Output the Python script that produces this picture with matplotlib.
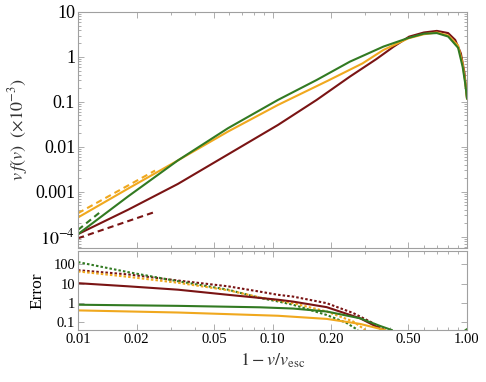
import numpy as np
import matplotlib
matplotlib.use("Agg")
import matplotlib.pyplot as plt
from matplotlib.ticker import FixedLocator, FixedFormatter, NullFormatter

plt.rcParams['font.family'] = 'serif'
plt.rcParams['font.serif'] = ['Liberation Serif', 'DejaVu Serif']
plt.rcParams['mathtext.fontset'] = 'stix'

# colours
red = "#7a1414"
orange = "#f0a81e"
green = "#327a22"
frame = "#a0a0a0"

# top panel: v f(v) curves, x = 1 - v/v_esc
x_green = [0.01, 0.01807, 0.0326, 0.059, 0.1067, 0.1687, 0.25, 0.3715, 0.5, 0.6, 0.7, 0.8, 0.9, 0.95, 0.98, 1.0]
y_green = [1.15e-4, 7.9e-4, 0.0050, 0.026, 0.111, 0.308, 0.787, 1.70, 2.65, 3.3, 3.4, 2.85, 1.6, 0.6, 0.25, 0.12]

x_orange = [0.01, 0.01807, 0.0326, 0.059, 0.1067, 0.193, 0.2904, 0.3715, 0.5, 0.6, 0.7, 0.8, 0.9, 0.95, 0.98, 1.0]
y_orange = [2.7e-4, 0.00118, 0.0050, 0.0219, 0.0858, 0.298, 0.72, 1.43, 2.6, 3.2, 3.5, 3.0, 1.8, 0.7, 0.28, 0.12]

x_red = [0.01, 0.01807, 0.0326, 0.059, 0.1067, 0.1687, 0.25, 0.3423, 0.42, 0.504, 0.6, 0.7, 0.8, 0.87, 0.93, 0.97, 1.0]
y_red = [1.15e-4, 4.0e-4, 0.0015, 0.0068, 0.0308, 0.111, 0.366, 0.9, 1.7, 2.83, 3.5, 3.8, 3.4, 2.39, 1.2, 0.45, 0.12]

# small-x approximations (dashed)
xd_orange = [0.01, 0.0249]
yd_orange = [3.36e-4, 2.98e-3]
xd_green = [0.01, 0.013]
yd_green = [1.43e-4, 3.55e-4]
xd_red = [0.01, 0.0247]
yd_red = [9.3e-5, 3.55e-4]

# bottom panel: errors
xe_red_dot = [0.01, 0.0181, 0.0327, 0.0591, 0.0861, 0.1068, 0.1275, 0.19, 0.26, 0.317, 0.378]
ye_red_dot = [50, 30, 14.4, 7.2, 3.8, 2.6, 2.1, 0.95, 0.29, 0.105, 0.038]
xe_red = [0.01, 0.0181, 0.0327, 0.0591, 0.1068, 0.1275, 0.19, 0.282, 0.37]
ye_red = [10.5, 7.2, 4.8, 2.6, 1.44, 1.15, 0.59, 0.155, 0.038]
xe_green_dot = [0.01, 0.0181, 0.0327, 0.0591, 0.0861, 0.1068, 0.1275, 0.19, 0.2396, 0.275]
ye_green_dot = [132, 39.5, 13.2, 4.8, 1.78, 1.17, 0.79, 0.23, 0.09, 0.038]
xe_green = [0.01, 0.0327, 0.0861, 0.1275, 0.19, 0.282, 0.357, 0.41]
ye_green = [0.79, 0.69, 0.58, 0.5, 0.35, 0.155, 0.062, 0.038]
xe_orange_dot = [0.01, 0.0181, 0.0327, 0.0591, 0.0861, 0.1068, 0.1275, 0.19, 0.26, 0.30]
ye_orange_dot = [43, 22.5, 11, 4.5, 1.9, 1.3, 0.95, 0.35, 0.105, 0.038]
xe_orange = [0.01, 0.0327, 0.1068, 0.19, 0.282, 0.378]
ye_orange = [0.4, 0.31, 0.21, 0.144, 0.079, 0.038]
xe_green_end = [0.985, 1.0]
ye_green_end = [0.038, 0.042]

x_ticks = [0.01, 0.02, 0.05, 0.1, 0.2, 0.5, 1.0]
x_ticklabels = ["0.01", "0.02", "0.05", "0.10", "0.20", "0.50", "1.00"]
y1_ticks = [1e-4, 1e-3, 1e-2, 1e-1, 1, 10]
y1_ticklabels = ["$10^{-4}$", "0.001", "0.01", "0.1", "1", "10"]
y2_ticks = [0.1, 1, 10, 100]
y2_ticklabels = ["0.1", "1", "10", "100"]

W, H = 486, 382
fig = plt.figure(figsize=(W / 100, H / 100), dpi=100)
ax1 = fig.add_axes([78 / W, 1 - 247.5 / H, 389 / W, 235.5 / H])
ax2 = fig.add_axes([78 / W, 1 - 330 / H, 389 / W, 79 / H])

lw = 1.5
ax1.plot(x_red, y_red, color=red, lw=lw)
ax1.plot(x_orange, y_orange, color=orange, lw=lw)
ax1.plot(x_green, y_green, color=green, lw=lw)
ax1.plot(xd_orange, yd_orange, color=orange, lw=lw, dashes=(3, 2))
ax1.plot(xd_green, yd_green, color=green, lw=lw, dashes=(3, 2))
ax1.plot(xd_red, yd_red, color=red, lw=lw, dashes=(3, 2))

ax2.plot(xe_red_dot, ye_red_dot, color=red, lw=lw, dashes=(1.2, 1))
ax2.plot(xe_green_dot, ye_green_dot, color=green, lw=lw, dashes=(1.2, 1))
ax2.plot(xe_orange_dot, ye_orange_dot, color=orange, lw=lw, dashes=(1.2, 1))
ax2.plot(xe_red, ye_red, color=red, lw=lw)
ax2.plot(xe_green, ye_green, color=green, lw=lw)
ax2.plot(xe_orange, ye_orange, color=orange, lw=lw)
ax2.plot(xe_green_end, ye_green_end, color=green, lw=lw)

minor_x = [k * 10.0 ** e for e in (-2, -1) for k in range(2, 10) if k not in (2, 5)]
for ax in (ax1, ax2):
    ax.set_xscale("log")
    ax.set_yscale("log")
    ax.set_xlim(0.01, 1.0)
    ax.xaxis.set_major_locator(FixedLocator(x_ticks))
    ax.xaxis.set_minor_locator(FixedLocator(minor_x))
    ax.xaxis.set_minor_formatter(NullFormatter())
    ax.yaxis.set_minor_formatter(NullFormatter())
    for s in ax.spines.values():
        s.set_color(frame)
        s.set_linewidth(0.8)
    ax.tick_params(which="both", direction="in", top=True, right=True,
                   color=frame, width=0.6)
    ax.tick_params(which="major", length=4.5, pad=2)
    ax.tick_params(which="minor", length=2.2)

ax1.set_ylim(5.8e-5, 10)
ax1.yaxis.set_major_locator(FixedLocator(y1_ticks))
ax1.yaxis.set_major_formatter(FixedFormatter(y1_ticklabels))
ax1.tick_params(axis="x", labelbottom=False)
ax1.tick_params(axis="y", labelsize=13)
ax1.set_ylabel(r"$v\,f(v)\ \ (\times 10^{-3})$", fontsize=13, labelpad=4, color="#333333")

ax2.set_ylim(0.038, 500)
ax2.yaxis.set_major_locator(FixedLocator(y2_ticks))
ax2.yaxis.set_major_formatter(FixedFormatter(y2_ticklabels))
ax2.xaxis.set_major_formatter(FixedFormatter(x_ticklabels))
ax2.tick_params(labelsize=10.5)
ax2.set_ylabel("Error", fontsize=12.5, labelpad=6)
ax2.set_xlabel(r"$1 - v/v_{\rm esc}$", fontsize=13, labelpad=4, color="#333333")

fig.savefig("out.png", dpi=100)
